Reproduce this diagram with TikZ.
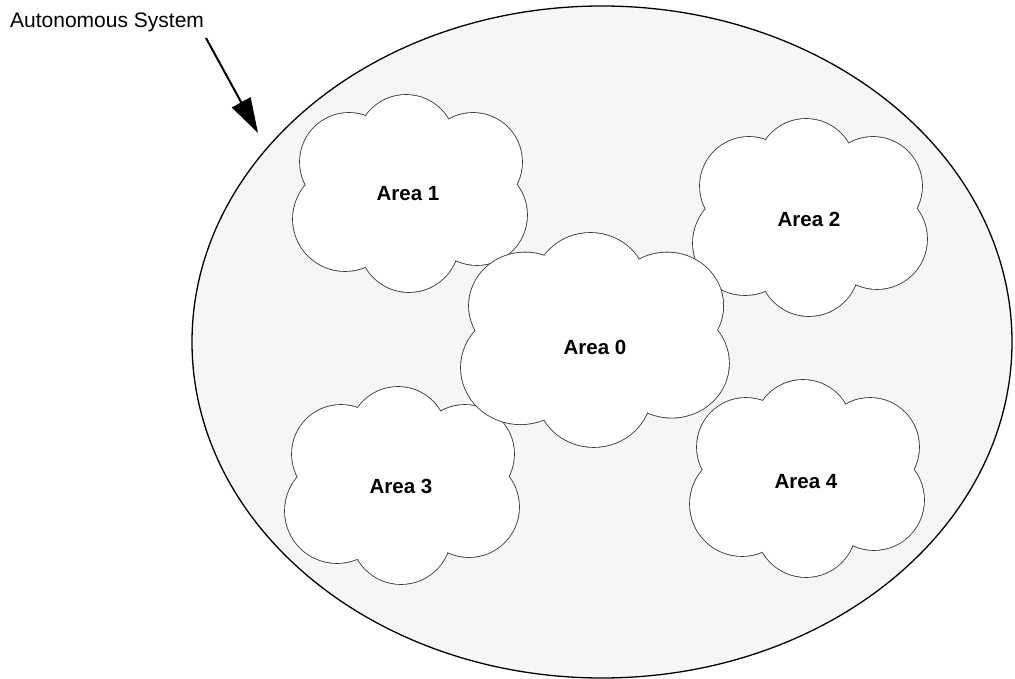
\documentclass[tikz,border=0pt]{standalone}
\usepackage{fontspec}
\setmainfont{Liberation Sans}
\usetikzlibrary{arrows.meta}
\definecolor{asfill}{HTML}{F6F6F6}
\definecolor{cloudline}{HTML}{3A3A3A}

% One cloud: six overlapping puffs. The puffs are stroked at double width
% and then filled white, so only the outer half of the rim stays visible.
\newcommand\areacloud[3]{%
  \begin{scope}[shift={#1}, xscale=#2, yscale=#3]
    \draw[cloudrim]
      (56,67) circle[radius=49]  (113,49) circle[radius=49]
      (180,67) circle[radius=49] (184,120) circle[radius=50]
      (116,147) circle[radius=50] (52,124) circle[radius=52];
    \fill[white] (56,67) circle[radius=49];
    \fill[white] (113,49) circle[radius=49];
    \fill[white] (180,67) circle[radius=49];
    \fill[white] (184,120) circle[radius=50];
    \fill[white] (116,147) circle[radius=50];
    \fill[white] (52,124) circle[radius=52];
    \fill[white] (56,67) -- (113,49) -- (180,67) -- (184,120)
      -- (116,147) -- (52,124) -- cycle;
  \end{scope}}

\begin{document}
\begin{tikzpicture}[x=1pt, y=-1pt,
    cloudrim/.style={draw=cloudline, line width=1.7pt},
    asrim/.style={draw=black, line width=1.3pt, fill=asfill},
    arealabel/.style={font=\fontsize{20.5}{24}\selectfont\bfseries, inner sep=0pt},
    pointer/.style={line width=2pt, -{Triangle[length=35pt, width=21pt]}}]
  \useasboundingbox (0,0) rectangle (1015,679);

  % the autonomous system
  \draw[asrim] (602,342) ellipse[x radius=410, y radius=336];

  % the outer areas, then the backbone area on top of them
  \areacloud{(293,95)}{1}{1}
  \areacloud{(693,119)}{1}{1}
  \areacloud{(285,387)}{1}{1}
  \areacloud{(690,380)}{1}{1}
  \areacloud{(461,233)}{1.145}{1.086}

  \node[arealabel] (a1) at (408,194) {Area 1};
  \node[arealabel] (a2) at (809,219) {Area 2};
  \node[arealabel] (a3) at (401,486) {Area 3};
  \node[arealabel] (a4) at (806,482) {Area 4};
  \node[arealabel] (a0) at (595,347) {Area 0};

  % caption with its pointer
  \node[anchor=base west, inner sep=0pt, font=\fontsize{21}{25}\selectfont]
    (as) at (10,28) {Autonomous System};
  \coordinate (tail) at (206,38);
  \coordinate (tip) at (258,133);
  \draw[pointer] (tail) -- (tip);
\end{tikzpicture}
\end{document}
